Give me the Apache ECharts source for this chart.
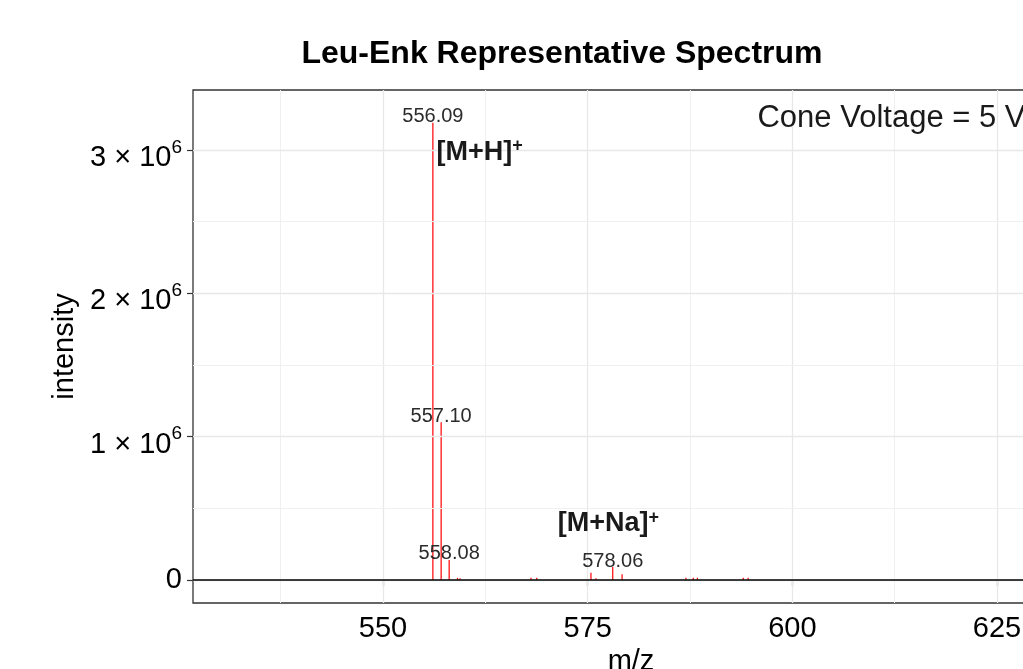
<!DOCTYPE html>
<html>
<head>
<meta charset="utf-8">
<script src="https://cdn.jsdelivr.net/npm/echarts@6/dist/echarts.min.js"></script>
<style>
	html, body { margin: 0; padding: 0; overflow: hidden; background: #fff; }
	#main { width: 1124px; height: 669px; }
</style>
</head>
<body>
<div id="main"></div>
<script>
// peaks (m/z, intensity)
var peak_mz = [556.09, 557.10, 558.08, 559.10, 559.40, 568.08, 568.78, 575.40, 576.00, 578.06, 579.20, 587.00, 587.90, 588.40, 594.00, 594.60];
var peak_int = [3.19e6, 1.10e6, 0.14e6, 0.015e6, 0.012e6, 0.015e6, 0.015e6, 0.05e6, 0.012e6, 0.09e6, 0.04e6, 0.015e6, 0.015e6, 0.015e6, 0.015e6, 0.015e6];

// labelled peaks
var label_mz = [556.09, 557.10, 558.08, 578.06];
var label_int = [3.19e6, 1.10e6, 0.14e6, 0.09e6];
var label_text = ['556.09', '557.10', '558.08', '578.06'];

// axis ticks
var x_ticks = [550, 575, 600, 625];
var x_minor = [537.5, 562.5, 587.5, 612.5];
var y_ticks = [0, 1e6, 2e6, 3e6];
var y_minor = [0.5e6, 1.5e6, 2.5e6];

var chart = echarts.init(document.getElementById('main'));

var stickData = peak_mz.map(function(m, i){
	return [m, peak_int[i]];
});
var labelData = label_mz.map(function(m, i){
	return [m, label_int[i], label_text[i]];
});

var gridLines = [];
x_ticks.forEach(function(v){
	gridLines.push({ xAxis: v, lineStyle: { color: '#e8e8e8', width: 1.3, type: 'solid' } });
});
x_minor.forEach(function(v){
	gridLines.push({ xAxis: v, lineStyle: { color: '#f0f0f0', width: 1, type: 'solid' } });
});
y_ticks.forEach(function(v){
	gridLines.push({ yAxis: v, lineStyle: { color: '#e8e8e8', width: 1.3, type: 'solid' } });
});
y_minor.forEach(function(v){
	gridLines.push({ yAxis: v, lineStyle: { color: '#f0f0f0', width: 1, type: 'solid' } });
});

var option = {
	animation: false,
	backgroundColor: '#fff',
	title: {
		text: 'Leu-Enk Representative Spectrum',
		left: 'center',
		top: 33,
		textStyle: {
			fontFamily: 'Liberation Sans',
			fontSize: 32,
			fontWeight: 'bold',
			color: '#000'
		}
	},
	grid: {
		left: 193,
		right: 55,
		top: 90,
		bottom: 66,
		outerBoundsMode: 'none',
		containLabel: false,
		show: true,
		backgroundColor: '#fff',
		borderColor: '#333',
		borderWidth: 1.3
	},
	xAxis: {
		type: 'value',
		min: 526.79,
		max: 633.79,
		name: 'm/z',
		nameLocation: 'middle',
		nameGap: 44,
		nameTextStyle: { fontFamily: 'Liberation Sans', fontSize: 29, color: '#000' },
		axisLine: { show: false },
		splitLine: { show: false },
		axisTick: {
			show: true,
			length: 6,
			customValues: x_ticks,
			lineStyle: { color: '#333', width: 1.2 }
		},
		axisLabel: {
			customValues: x_ticks,
			margin: 11,
			fontFamily: 'Liberation Sans',
			fontSize: 29,
			color: '#000'
		}
	},
	yAxis: {
		type: 'value',
		min: -0.1605e6,
		max: 3.419e6,
		name: 'intensity',
		nameLocation: 'middle',
		nameGap: 112,
		nameTextStyle: { fontFamily: 'Liberation Sans', fontSize: 29, color: '#000' },
		axisLine: { show: false },
		splitLine: { show: false },
		axisTick: {
			show: true,
			length: 6,
			customValues: y_ticks,
			lineStyle: { color: '#333', width: 1.2 }
		},
		axisLabel: {
			customValues: y_ticks,
			margin: 11,
			padding: [16, 0, 0, 0],
			formatter: function(v){
				if(v === 0){
					return '{z|0}';
				}
				return '{n|' + (v / 1e6) + ' \u00d7 10}{s|6}';
			},
			rich: {
				n: { fontFamily: 'Liberation Sans', fontSize: 29, color: '#000', lineHeight: 40 },
				s: { fontFamily: 'Liberation Sans', fontSize: 19, color: '#000', verticalAlign: 'top', lineHeight: 19 },
				z: { fontFamily: 'Liberation Sans', fontSize: 29, color: '#000', lineHeight: 32, padding: [0, 0, 16, 0] }
			}
		}
	},
	series: [
		// grid lines
		{
			type: 'line',
			data: [],
			silent: true,
			z: 1,
			markLine: {
				silent: true,
				symbol: 'none',
				label: { show: false },
				animation: false,
				data: gridLines
			}
		},
		// sticks
		{
			type: 'custom',
			z: 3,
			data: stickData,
			encode: { x: 0, y: 1 },
			renderItem: function(params, api){
				var top = api.coord([api.value(0), api.value(1)]);
				var base = api.coord([api.value(0), 0]);
				return {
					type: 'line',
					shape: { x1: top[0], y1: top[1], x2: base[0], y2: base[1] },
					style: { stroke: '#ff0000', lineWidth: 1.2 }
				};
			},
			markLine: {
				silent: true,
				symbol: 'none',
				label: { show: false },
				animation: false,
				data: [{ yAxis: 0, lineStyle: { color: '#000', width: 1.6, type: 'solid' } }]
			}
		},
		// peak labels
		{
			type: 'scatter',
			z: 5,
			symbolSize: 1,
			itemStyle: { color: 'rgba(0,0,0,0)', opacity: 1 },
			data: labelData,
			label: {
				show: true,
				position: 'inside',
				offset: [0, -6],
				formatter: function(p){ return p.value[2]; },
				fontFamily: 'Liberation Sans',
				fontSize: 20,
				color: '#2b2b2b',
				textBorderWidth: 0
			}
		},
		// annotations
		{
			type: 'scatter',
			z: 5,
			symbolSize: 1,
			itemStyle: { color: 'rgba(0,0,0,0)', opacity: 1 },
			data: [
				{ value: [556.6, 2.98e6], label: { formatter: '{m|[M+H]}{s|+}' } },
				{ value: [571.4, 0.39e6], label: { formatter: '{m|[M+Na]}{s|+}' } },
				{ value: [595.8, 3.22e6], label: { formatter: '{c|Cone Voltage = 5 V}' } }
			],
			label: {
				show: true,
				position: [0, 0],
				align: 'left',
				verticalAlign: 'middle',
				textBorderWidth: 0,
				rich: {
					m: { fontFamily: 'Liberation Sans', fontSize: 27, fontWeight: 'bold', color: '#1a1a1a', lineHeight: 30 },
					s: { fontFamily: 'Liberation Sans', fontSize: 18, fontWeight: 'bold', color: '#1a1a1a', verticalAlign: 'top', lineHeight: 18 },
					c: { fontFamily: 'Liberation Sans', fontSize: 31, color: '#1a1a1a' }
				}
			}
		}
	]
};

chart.setOption(option);
</script>
</body>
</html>
